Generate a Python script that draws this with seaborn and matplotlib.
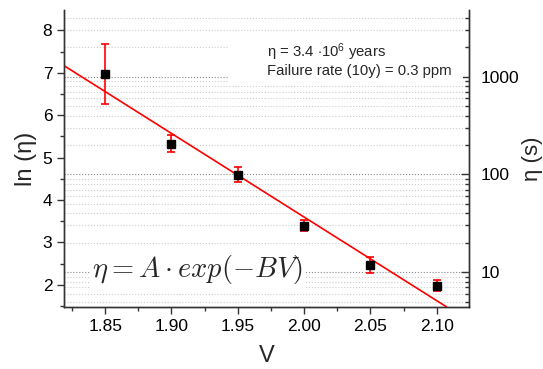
import numpy as np
import matplotlib
matplotlib.use("Agg")
import matplotlib.pyplot as plt
import matplotlib.ticker as mticker
from matplotlib.patches import Rectangle
import seaborn as sns

# measured points: voltage vs ln(eta)
voltage = [1.85, 1.90, 1.95, 2.00, 2.05, 2.10]
ln_eta = [6.97, 5.33, 4.60, 3.40, 2.47, 1.98]
ln_eta_err = [0.70, 0.20, 0.18, 0.13, 0.20, 0.13]

# linear fit  ln(eta) = lnA - B*V
fit_lnA = 43.0
fit_B = 19.7

ln_lim = (1.48, 8.47)
v_lim = (1.819, 2.1245)
right_ticks = [10, 100, 1000]

sns.set_style("white")
plt.rcParams['font.family'] = ['Liberation Sans', 'DejaVu Sans']
plt.rcParams['mathtext.fontset'] = 'custom'
plt.rcParams['mathtext.rm'] = 'Liberation Sans'
plt.rcParams['mathtext.it'] = 'Liberation Sans:italic'

fig, ax = plt.subplots(figsize=(5.43, 3.69), dpi=100)
fig.subplots_adjust(left=0.118, right=0.864, top=0.972, bottom=0.168)

ax.set_xlim(*v_lim)
ax.set_ylim(*ln_lim)

# right axis: eta in seconds, log scale
ax2 = ax.twinx()
ax2.set_yscale('log')
ax2.set_ylim(np.exp(ln_lim[0]), np.exp(ln_lim[1]))
ax2.yaxis.set_major_locator(mticker.FixedLocator(right_ticks))
ax2.yaxis.set_major_formatter(mticker.FormatStrFormatter('%d'))
ax2.yaxis.set_minor_locator(mticker.LogLocator(base=10, subs=np.arange(2, 10)))
ax2.yaxis.set_minor_formatter(mticker.NullFormatter())

# gridlines follow the log ticks of the right axis
ax2.grid(True, which='major', axis='y', color='#888888', linestyle=':', linewidth=0.8)
ax2.grid(True, which='minor', axis='y', color='#cccccc', linestyle=':', linewidth=0.8)
ax2.set_zorder(0)
ax.set_zorder(1)
ax.patch.set_visible(False)

ax.axline((0, fit_lnA), slope=-fit_B, color='red', linewidth=1.2, zorder=2)
ax.errorbar(voltage, ln_eta, yerr=ln_eta_err, fmt='s', color='black',
            markersize=6, ecolor='red', elinewidth=1.2, capsize=3,
            capthick=1.2, zorder=3)

ax.xaxis.set_major_locator(mticker.MultipleLocator(0.05))
ax.xaxis.set_minor_locator(mticker.MultipleLocator(0.025))
ax.xaxis.set_major_formatter(mticker.FormatStrFormatter('%.2f'))
ax.yaxis.set_major_locator(mticker.MultipleLocator(1))
ax.yaxis.set_minor_locator(mticker.MultipleLocator(0.5))

for a in (ax, ax2):
    a.spines['top'].set_visible(False)
    for s in a.spines.values():
        s.set_color('#333333')
        s.set_linewidth(1.0)

ax.tick_params(which='both', direction='out', colors='#333333', labelcolor='black',
               labelsize=12.5, left=True, bottom=True, right=False)
ax.tick_params(which='major', length=5, width=1)
ax.tick_params(which='minor', length=3, width=1)
ax2.tick_params(which='both', direction='in', colors='#333333', labelcolor='black',
                labelsize=12.5, right=True, left=False, pad=8)
ax2.tick_params(which='major', length=6, width=1)
ax2.tick_params(which='minor', length=3, width=1)

ax.set_xlabel('V', fontsize=17, labelpad=8)
ax.set_ylabel('ln (η)', fontsize=17, labelpad=4)
ax2.set_ylabel('η (s)', fontsize=16, labelpad=2)

# white box behind the annotation (hides the gridlines there)
ax.add_patch(Rectangle((0.405, 0.758), 0.58, 0.148, transform=ax.transAxes,
                       facecolor='white', edgecolor='none', zorder=1.5))
ax.text(0.50, 0.834, 'η = 3.4 $\\cdot$10$^{6}$ years\nFailure rate (10y) = 0.3 ppm',
        transform=ax.transAxes, fontsize=10.7, va='center', ha='left',
        linespacing=1.15, zorder=4)

ax.text(0.07, 0.125, r'$\eta = A\cdot exp(-BV)$', transform=ax.transAxes,
        fontsize=20.5, math_fontfamily='cm', va='center', ha='left',
        bbox=dict(facecolor='white', edgecolor='none', pad=1), zorder=4)

fig.savefig('out.png', dpi=100)
